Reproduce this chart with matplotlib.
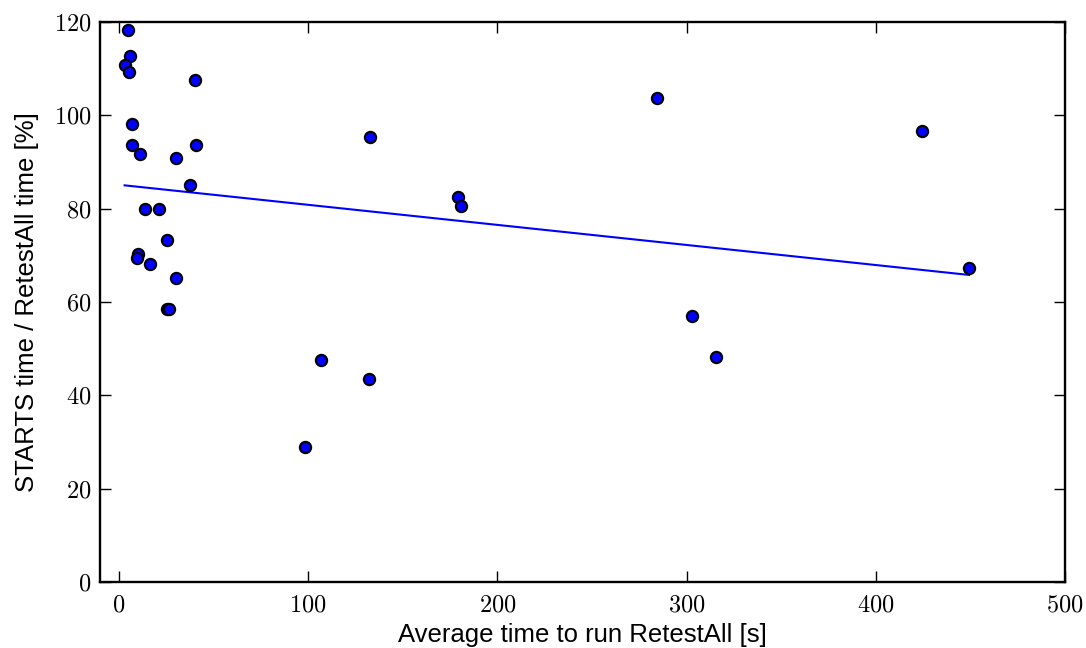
import numpy as np
import matplotlib
matplotlib.use('Agg')
import matplotlib.pyplot as plt
from matplotlib.ticker import FuncFormatter

# Average RetestAll time [s] and STARTS/RetestAll ratio [%]
retestall_time = [4.8, 6.0, 3.4, 5.5, 40.0, 7.1, 6.9, 40.7, 11.0, 30.2,
                  37.7, 13.6, 21.4, 25.2, 10.1, 9.6, 16.6, 30.2, 25.6, 26.7,
                  98.3, 106.8, 132.2, 132.7, 179.2, 180.8, 284.4, 302.9,
                  315.6, 424.5, 449.3]
starts_ratio = [118.3, 112.8, 110.8, 109.3, 107.5, 98.2, 93.6, 93.6, 91.8, 90.8,
                85.0, 79.9, 79.9, 73.3, 70.2, 69.5, 68.1, 65.1, 58.4, 58.4,
                28.9, 47.6, 43.5, 95.4, 82.5, 80.6, 103.7, 57.0,
                48.2, 96.6, 67.3]

# trend line as drawn in the original (end points)
trend_x = [3.0, 449.3]
trend_y = [85.0, 65.8]

plt.rcParams['mathtext.fontset'] = 'cm'
plt.rcParams['font.family'] = ['Liberation Sans', 'DejaVu Sans']

fig = plt.figure(figsize=(10.86, 6.48), dpi=100)
ax = fig.add_axes([0.0921, 0.1019, 0.8886, 0.8641])

ax.scatter(retestall_time, starts_ratio, s=66, c='#0000ff', edgecolors='black',
           linewidths=1.5, zorder=3)
ax.plot(trend_x, trend_y, color='#0000ff', linewidth=1.5, zorder=2)

ax.set_xlim(-10, 500)
ax.set_ylim(0, 120)
ax.set_xticks([0, 100, 200, 300, 400, 500])
ax.set_yticks([0, 20, 40, 60, 80, 100, 120])
fmt = FuncFormatter(lambda v, p: r'$%d$' % v)
ax.xaxis.set_major_formatter(fmt)
ax.yaxis.set_major_formatter(fmt)
ax.tick_params(direction='in', top=True, right=True, length=8, width=1,
               labelsize=17.5)
ax.tick_params(axis='x', pad=9)
ax.tick_params(axis='y', pad=6)
for sp in ax.spines.values():
    sp.set_linewidth(1.7)

ax.set_xlabel('Average time to run RetestAll [s]', fontsize=18.5, labelpad=5)
ax.set_ylabel('STARTS time / RetestAll time [%]', fontsize=18.5, labelpad=11)

fig.savefig('out.png', dpi=100)
